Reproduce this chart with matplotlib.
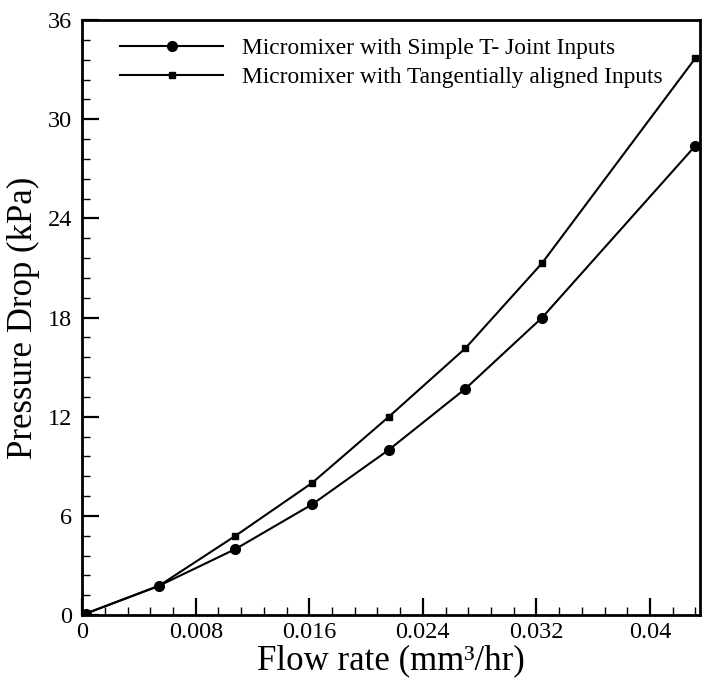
import numpy as np
import matplotlib.pyplot as plt
from matplotlib.ticker import MultipleLocator, FuncFormatter

plt.rcParams['font.family'] = ['Liberation Serif', 'DejaVu Serif']

# Data
flow_rate = [0.0, 0.00027, 0.0054, 0.0108, 0.0162, 0.0216, 0.027, 0.0324, 0.0432]
dp_simple_t = [0.0, 0.1, 1.77, 4.0, 6.7, 10.0, 13.7, 18.0, 28.4]
dp_tangential = [0.0, 0.1, 1.77, 4.8, 8.0, 12.0, 16.15, 21.3, 33.7]

label_simple = 'Micromixer with Simple T- Joint Inputs'
label_tang = 'Micromixer with Tangentially aligned Inputs'

fig = plt.figure(figsize=(7.14, 6.79), dpi=100)
ax = fig.add_axes([0.115, 0.094, 0.865, 0.8765])

ax.plot(flow_rate, dp_simple_t, color='black', lw=1.5, marker='o', ms=7,
        label=label_simple)
ax.plot(flow_rate, dp_tangential, color='black', lw=1.5, marker='s', ms=5,
        label=label_tang)

ax.set_xlim(0, 0.0435)
ax.set_ylim(0, 36)
ax.xaxis.set_major_locator(MultipleLocator(0.008))
ax.xaxis.set_minor_locator(MultipleLocator(0.0016))
ax.yaxis.set_major_locator(MultipleLocator(6))
ax.yaxis.set_minor_locator(MultipleLocator(1.2))
ax.xaxis.set_major_formatter(FuncFormatter(lambda v, p: '%g' % round(v, 4)))

ax.tick_params(which='major', direction='in', length=12, width=1.6,
               labelsize=17.5, top=False, right=False)
ax.tick_params(axis='x', which='major', pad=5)
ax.tick_params(axis='y', which='major', pad=7)
ax.tick_params(which='minor', direction='in', length=6, width=1.0,
               top=False, right=False)
for s in ax.spines.values():
    s.set_linewidth(2)

ax.set_xlabel('Flow rate (mm\u00b3/hr)', fontsize=25, labelpad=1)
ax.set_ylabel('Pressure Drop (kPa)', fontsize=25, labelpad=6)

leg = ax.legend(loc='upper left', bbox_to_anchor=(0.028, 1.005), frameon=False,
                fontsize=16.8, handlelength=4.4, handletextpad=0.8,
                labelspacing=0.3)

plt.savefig('out.png', dpi=100)
